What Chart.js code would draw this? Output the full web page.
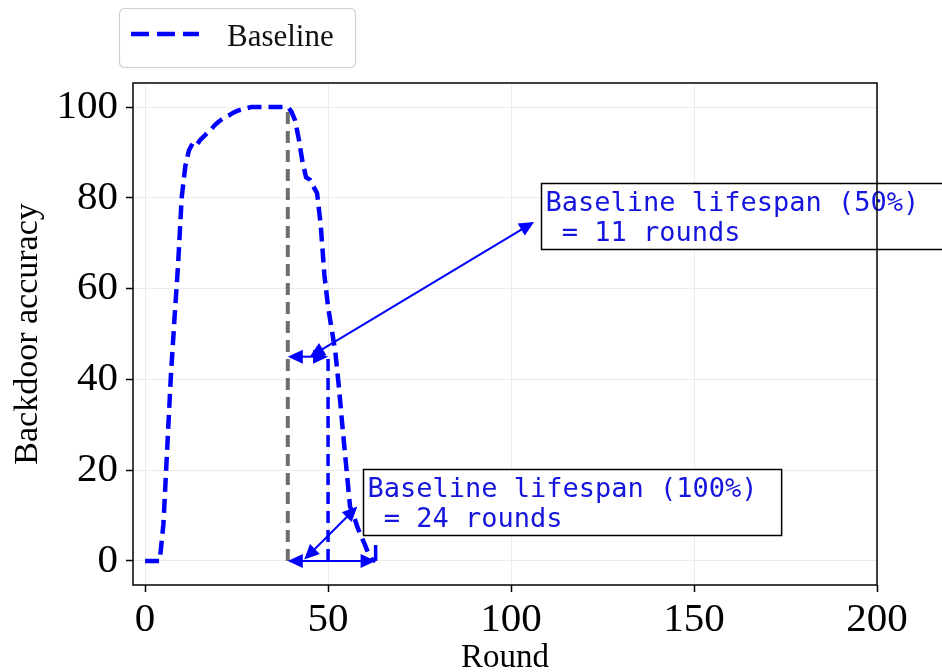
<!DOCTYPE html>
<html>
<head>
<meta charset="utf-8">
<title>Backdoor accuracy</title>
<script src="https://cdn.jsdelivr.net/npm/chart.js@4.4.1/dist/chart.umd.min.js"></script>
<style>
    html, body { margin: 0; padding: 0; background: #fff; }
    #wrap { width: 942px; height: 672px; }
</style>
</head>
<body>
<div id="wrap"><canvas id="chart" width="942" height="672"></canvas></div>
<script>
// Values
const rounds = [0, 1, 2, 3, 4, 5, 6, 7, 8, 9, 10, 11, 12, 13, 14, 15, 16, 17, 18, 19,
    20, 21, 22, 23, 24, 25, 26, 27, 28, 29, 30, 31, 32, 33, 34, 35, 36, 37, 38, 39,
    40, 41, 42, 43, 44, 45, 46, 47, 48, 49, 50, 51, 52, 53, 54, 55, 56, 57, 58, 59,
    60, 61, 62, 63];
const accuracy = [0, 0, 0, 0, 0, 8, 24, 40, 53, 65, 80, 87, 90.5, 92, 91.5, 92.7, 93.5, 94.3, 95, 96,
    96.7, 97.3, 97.8, 98.2, 98.7, 99.1, 99.4, 99.6, 99.8, 100, 100, 100, 100, 100, 100, 100, 100, 100, 100, 100,
    99, 97, 93, 88, 84.5, 84, 82.5, 81, 74, 63, 56, 51, 46, 38, 29, 20.5, 12, 10, 7.5, 5.5,
    3.7, 1.7, 0.3, 0];

const xTicks = [0, 50, 100, 150, 200];
const yTicks = [0, 20, 40, 60, 80, 100];

// Lifespan markers
const attackEnd = 39;
const halfLifeRound = 50;
const fullLifeRound = 63;
const halfLevel = 45;

const spanFrom = [attackEnd, attackEnd];
const spanTo = [halfLifeRound, fullLifeRound];
const spanLevel = [halfLevel, 0];

// Annotation boxes (data coordinates)
const noteText = [
    ['Baseline lifespan (50%)', ' = 11 rounds'],
    ['Baseline lifespan (100%)', ' = 24 rounds']
];
const noteBoxX = [108.2, 59.6];
const noteBoxY = [83.3, 20.3];
const noteTipX = [106.3, 58];
const noteTipY = [74.7, 12];
const noteTailX = [45, 43.5];
const noteTailY = [45, 0.3];

const SERIF = '"Liberation Serif", "Times New Roman", serif';
const MONO = '"DejaVu Sans Mono", monospace';

function drawHead(ctx, x, y, ang) {
    const hl = 15, hw = 7;
    ctx.beginPath();
    ctx.moveTo(x, y);
    ctx.lineTo(x - Math.cos(ang) * hl - Math.sin(ang) * hw, y - Math.sin(ang) * hl + Math.cos(ang) * hw);
    ctx.lineTo(x - Math.cos(ang) * hl + Math.sin(ang) * hw, y - Math.sin(ang) * hl - Math.cos(ang) * hw);
    ctx.closePath();
    ctx.fill();
}

function drawArrow(ctx, x1, y1, x2, y2) {
    const ang = Math.atan2(y2 - y1, x2 - x1);
    ctx.setLineDash([]);
    ctx.strokeStyle = 'blue';
    ctx.fillStyle = 'blue';
    ctx.lineWidth = 2;
    ctx.beginPath();
    ctx.moveTo(x1 + Math.cos(ang) * 10, y1 + Math.sin(ang) * 10);
    ctx.lineTo(x2 - Math.cos(ang) * 10, y2 - Math.sin(ang) * 10);
    ctx.stroke();
    drawHead(ctx, x2, y2, ang);
    drawHead(ctx, x1, y1, ang + Math.PI);
}

// Arrows, text boxes, frame and legend
const overlay = {
    id: 'overlay',
    afterDatasetsDraw(chart) {
        const { ctx, chartArea: a, scales: { x, y } } = chart;
        ctx.save();

        spanFrom.forEach((v, i) => {
            const py = y.getPixelForValue(spanLevel[i]);
            drawArrow(ctx, x.getPixelForValue(v), py, x.getPixelForValue(spanTo[i]), py);
        });

        noteText.forEach((lines, i) => {
            drawArrow(ctx,
                x.getPixelForValue(noteTailX[i]), y.getPixelForValue(noteTailY[i]),
                x.getPixelForValue(noteTipX[i]), y.getPixelForValue(noteTipY[i]));

            ctx.font = '27px ' + MONO;
            const w = Math.max(...lines.map(l => ctx.measureText(l).width));
            const bx = Math.round(x.getPixelForValue(noteBoxX[i])) + 0.5;
            const by = Math.round(y.getPixelForValue(noteBoxY[i])) + 0.5;
            ctx.fillStyle = '#fff';
            ctx.fillRect(bx, by, w + 28, 66);
            ctx.strokeStyle = '#000';
            ctx.lineWidth = 1.5;
            ctx.strokeRect(bx, by, w + 28, 66);
            ctx.fillStyle = '#1515dd';
            ctx.textBaseline = 'alphabetic';
            ctx.textAlign = 'left';
            lines.forEach((l, j) => ctx.fillText(l, bx + 4, by + 27 + j * 30));
        });

        // axes frame
        ctx.strokeStyle = '#000';
        ctx.lineWidth = 1.5;
        ctx.strokeRect(a.left, a.top, a.right - a.left, a.bottom - a.top);

        // legend
        ctx.beginPath();
        ctx.roundRect(119.5, 8.5, 236, 59, 5);
        ctx.fillStyle = 'rgba(255,255,255,0.8)';
        ctx.fill();
        ctx.strokeStyle = '#d0d0d0';
        ctx.lineWidth = 1.2;
        ctx.stroke();
        ctx.beginPath();
        ctx.setLineDash([18, 8]);
        ctx.strokeStyle = 'blue';
        ctx.lineWidth = 4.5;
        ctx.moveTo(131, 34);
        ctx.lineTo(199, 34);
        ctx.stroke();
        ctx.setLineDash([]);
        ctx.fillStyle = '#111';
        ctx.font = '31px ' + SERIF;
        ctx.fillText('Baseline', 227, 46);

        ctx.restore();
    }
};

const ctx = document.getElementById('chart');

new Chart(ctx, {
    type: 'line',
    data: {
        datasets: [
            {
                label: 'Baseline',
                data: rounds.map((r, i) => ({ x: r, y: accuracy[i] })),
                borderColor: 'blue',
                borderWidth: 4.5,
                borderDash: [14, 7],
                pointRadius: 0,
                fill: false
            },
            {
                label: 'attack end',
                data: [{ x: attackEnd, y: 0 }, { x: attackEnd, y: 100 }],
                borderColor: '#6e6e6e',
                borderWidth: 4,
                borderDash: [12, 7],
                pointRadius: 0
            },
            {
                label: '50% lifespan',
                data: [{ x: halfLifeRound, y: 0 }, { x: halfLifeRound, y: 46 }],
                borderColor: 'blue',
                borderWidth: 3.5,
                borderDash: [12, 7],
                pointRadius: 0
            },
            {
                label: '100% lifespan',
                data: [{ x: fullLifeRound, y: 0 }, { x: fullLifeRound, y: 3.5 }],
                borderColor: 'blue',
                borderWidth: 3.5,
                pointRadius: 0
            }
        ]
    },
    options: {
        responsive: false,
        animation: false,
        devicePixelRatio: 1,
        layout: { padding: { left: 0, right: 65, top: 83, bottom: 0 } },
        plugins: {
            legend: { display: false },
            tooltip: { enabled: false }
        },
        scales: {
            x: {
                type: 'linear',
                min: -3.3,
                max: 200,
                afterBuildTicks: s => { s.ticks = xTicks.map(v => ({ value: v })); },
                afterFit: s => { s.height = 87; },
                ticks: { color: '#000', padding: 4, maxRotation: 0, font: { family: SERIF, size: 41 } },
                grid: { color: '#ececec', lineWidth: 1, tickColor: '#000', tickLength: 7, tickWidth: 1.5 },
                border: { display: false },
                title: { display: true, text: 'Round', color: '#000', padding: { top: 0, bottom: -3 }, font: { family: SERIF, size: 33, lineHeight: 1 } }
            },
            y: {
                type: 'linear',
                min: -5.3,
                max: 105.3,
                afterBuildTicks: s => { s.ticks = yTicks.map(v => ({ value: v })); },
                afterFit: s => { s.width = 133; },
                ticks: { color: '#000', padding: 8, font: { family: SERIF, size: 41 } },
                grid: { color: '#ececec', lineWidth: 1, tickColor: '#000', tickLength: 7, tickWidth: 1.5 },
                border: { display: false },
                title: { display: true, text: 'Backdoor accuracy', color: '#000', padding: { top: 8, bottom: 0 }, font: { family: SERIF, size: 34, lineHeight: 1.2 } }
            }
        }
    },
    plugins: [overlay]
});
</script>
</body>
</html>
